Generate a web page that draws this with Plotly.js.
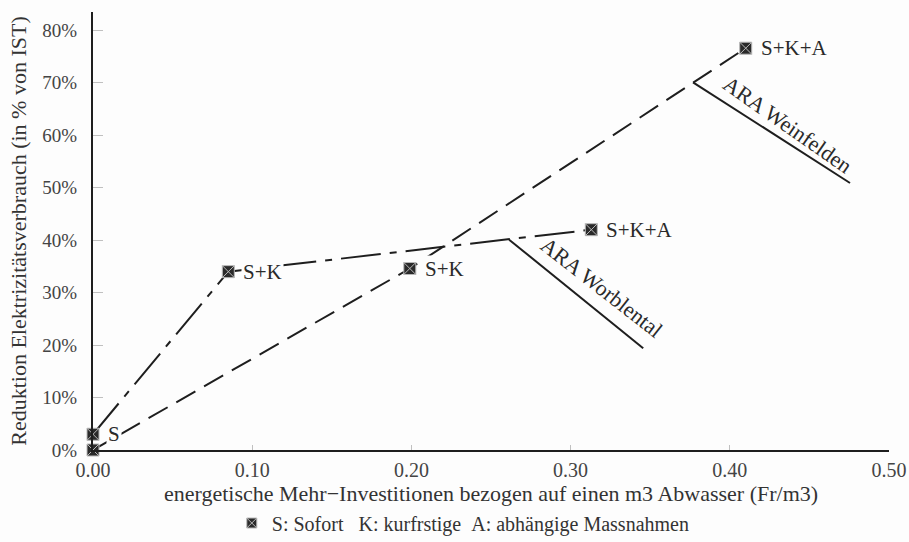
<!DOCTYPE html>
<html><head><meta charset="utf-8">
<script src="https://cdn.plot.ly/plotly-3.0.1.min.js"></script>
<style>html,body{margin:0;padding:0;background:#fdfdfd}</style>
</head><body><div id="chart" style="width:909px;height:542px"></div>
<script>
// ---- data ----
const worblentalX = [0, 0.085, 0.313];
const worblentalY = [0.03, 0.34, 0.42];
const worblentalLabels = ['S', 'S+K', 'S+K+A'];
const weinfeldenX = [0, 0.199, 0.41];
const weinfeldenY = [0, 0.346, 0.766];
const weinfeldenLabels = ['', 'S+K', 'S+K+A'];
const xTickVals = [0, 0.1, 0.2, 0.3, 0.4, 0.5];
const xTickText = ['0.00', '0.10', '0.20', '0.30', '0.40', '0.50'];
const yTickVals = [0, 0.1, 0.2, 0.3, 0.4, 0.5, 0.6, 0.7, 0.8];
const yTickText = ['0%', '10%', '20%', '30%', '40%', '50%', '60%', '70%', '80%'];
const seriesNames = ['ARA Worblental', 'ARA Weinfelden'];
const legendText = 'S: Sofort\u00a0\u00a0\u00a0K: kurfrstige\u00a0\u00a0A: abhängige Massnahmen';
const xTitle = 'energetische Mehr\u2212Investitionen bezogen auf einen m3 Abwasser (Fr/m3)';
const yTitle = 'Reduktion Elektrizitätsverbrauch (in % von IST)';
// series name labels: [label x, label y] and leader line [x0,y0,x1,y1]
const nameLabelPos = [[0.3195, 0.31], [0.436, 0.62]];
const leaderLines = [[0.2614, 0.401, 0.3456, 0.194], [0.3769, 0.701, 0.4755, 0.509]];

const FONT = 'Liberation Serif';
const INK = '#1e1e1e';
const BG = '#fdfdfd';
const markerStyle = {symbol: 'square-x', size: 12, color: '#2a2a2a', line: {color: '#b8b8b8', width: 1}};

const traces = [
  {x: worblentalX, y: worblentalY, name: seriesNames[0],
   mode: 'lines+markers', cliponaxis: false,
   line: {color: INK, width: 2, dash: '40px,9px,7px,9px'}, marker: markerStyle, showlegend: false},
  {x: weinfeldenX, y: weinfeldenY, name: seriesNames[1],
   mode: 'lines+markers', cliponaxis: false,
   line: {color: INK, width: 2, dash: '22px,10px'}, marker: markerStyle, showlegend: false},
  {x: [null], y: [null], name: legendText, mode: 'markers',
   marker: {symbol: 'square-x', size: 10, color: '#2a2a2a', line: {color: '#b8b8b8', width: 1}},
   showlegend: true}
];

const annotations = [];
// point labels (with background so that the lines pass behind them)
[[worblentalX, worblentalY, worblentalLabels], [weinfeldenX, weinfeldenY, weinfeldenLabels]].forEach(s => {
  s[2].forEach((lab, i) => {
    if (!lab) return;
    annotations.push({x: s[0][i], y: s[1][i], xref: 'x', yref: 'y', text: lab,
      showarrow: false, xanchor: 'left', yanchor: 'middle', xshift: 13,
      bgcolor: BG, borderpad: 1, font: {family: FONT, size: 21, color: '#2a2a2a'}});
  });
});
seriesNames.forEach((n, i) => annotations.push({
  x: nameLabelPos[i][0], y: nameLabelPos[i][1], xref: 'x', yref: 'y',
  text: n, showarrow: false, textangle: i === 0 ? 38 : 35,
  font: {family: FONT, size: 22, color: '#2a2a2a'}
}));
// x-axis title placed below the tick labels
annotations.push({
  x: 0.5, y: -0.1, xref: 'paper', yref: 'paper', xanchor: 'center', yanchor: 'middle',
  text: xTitle, showarrow: false, font: {family: FONT, size: 22, color: '#333'}
});

const shapes = leaderLines.map(l => ({
  type: 'line', xref: 'x', yref: 'y', x0: l[0], y0: l[1], x1: l[2], y1: l[3],
  line: {color: INK, width: 2}
}));

const layout = {
  width: 909, height: 542,
  margin: {l: 93, r: 20, t: 12, b: 92},
  paper_bgcolor: BG, plot_bgcolor: BG,
  font: {family: FONT, color: '#333'},
  xaxis: {range: [0, 0.5], tickvals: xTickVals, ticktext: xTickText, automargin: false,
    showline: true, linecolor: INK, linewidth: 2, showgrid: false, zeroline: false,
    ticks: 'inside', ticklen: 5, tickcolor: '#c0c0c0', tickwidth: 1,
    tickfont: {family: FONT, size: 20, color: '#444'}, ticklabelstandoff: 1},
  yaxis: {range: [0, 0.835], tickvals: yTickVals, ticktext: yTickText, automargin: false,
    showline: true, linecolor: INK, linewidth: 2, showgrid: false, zeroline: false,
    ticks: 'inside', ticklen: 10, tickcolor: '#c0c0c0', tickwidth: 1,
    tickfont: {family: FONT, size: 19, color: '#444'}, ticklabelstandoff: 10,
    title: {text: yTitle, font: {family: FONT, size: 22, color: '#333'}, standoff: 10}},
  showlegend: true,
  legend: {xref: 'container', yref: 'container', x: 0.255, y: 0.035,
    xanchor: 'left', yanchor: 'middle', orientation: 'h',
    bgcolor: 'rgba(0,0,0,0)', font: {family: FONT, size: 20, color: '#333'}},
  annotations: annotations,
  shapes: shapes
};

Plotly.newPlot('chart', traces, layout, {displayModeBar: false, staticPlot: true});
</script></body></html>
